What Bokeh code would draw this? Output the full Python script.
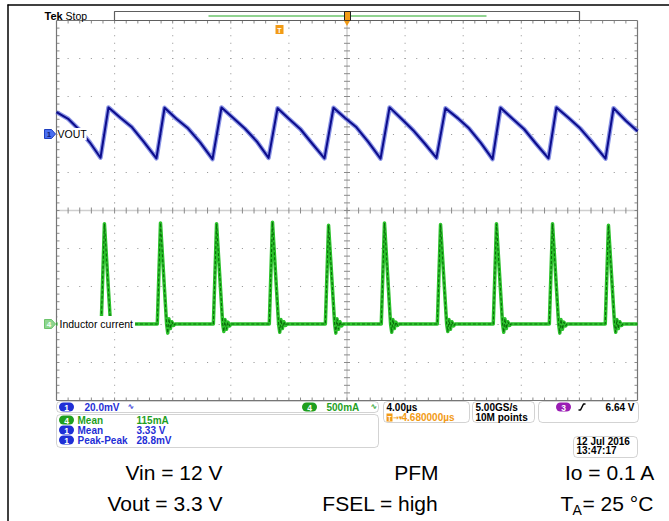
import numpy as np
from bokeh.plotting import figure
from bokeh.models import Range1d, BoxAnnotation
from bokeh.core.properties import value
from bokeh.embed import file_html
from bokeh.resources import INLINE

# ---------------- data ----------------
# Channel 1 (VOUT, AC-coupled ripple): time in µs, ripple in mV
vout_t = [0.00, 0.80, 1.60, 2.30, 3.03,
          3.58, 4.40, 5.20, 6.00, 6.88,
          7.44, 8.25, 9.05, 9.90, 10.74,
          11.36, 12.15, 12.95, 13.80, 14.60,
          15.22, 16.00, 16.80, 17.60, 18.45,
          19.07, 19.85, 20.65, 21.45, 22.31,
          22.93, 23.75, 24.55, 25.35, 26.16,
          26.78, 27.60, 28.40, 29.20, 30.02,
          30.57, 31.40, 32.20, 33.00, 33.87,
          34.42, 35.25, 36.05, 36.90, 37.80,
          38.35, 39.20, 40.00]
vout_mv = [11.5, 8.0, 2.0, -4.5, -12.5,
           14.0, 8.5, 3.5, -4.0, -12.8,
           13.8, 8.0, 3.0, -4.5, -13.2,
           14.0, 8.5, 3.0, -4.0, -12.6,
           13.6, 8.0, 2.5, -5.0, -12.8,
           13.8, 8.5, 3.5, -4.0, -13.0,
           14.0, 8.0, 2.0, -5.0, -12.6,
           13.6, 8.5, 3.0, -4.5, -13.2,
           13.8, 8.0, 2.5, -5.0, -12.8,
           14.0, 8.5, 3.0, -4.5, -13.0,
           13.6, 7.0, 1.5]

# Channel 4 (inductor current): time in µs, current in mA
il_t = [0.00,
        3.08, 3.30, 3.72, 3.80, 3.88, 3.98, 4.08, 4.20, 4.30,
        6.94, 7.16, 7.58, 7.66, 7.74, 7.84, 7.94, 8.06, 8.16,
        10.80, 11.02, 11.44, 11.52, 11.60, 11.70, 11.80, 11.92, 12.02,
        14.65, 14.87, 15.29, 15.37, 15.45, 15.55, 15.65, 15.77, 15.87,
        18.51, 18.73, 19.15, 19.23, 19.31, 19.41, 19.51, 19.63, 19.73,
        22.36, 22.58, 23.00, 23.08, 23.16, 23.26, 23.36, 23.48, 23.58,
        26.22, 26.44, 26.86, 26.94, 27.02, 27.12, 27.22, 27.34, 27.44,
        30.07, 30.29, 30.71, 30.79, 30.87, 30.97, 31.07, 31.19, 31.29,
        33.93, 34.15, 34.57, 34.65, 34.73, 34.83, 34.93, 35.05, 35.15,
        37.78, 38.00, 38.42, 38.50, 38.58, 38.68, 38.78, 38.90, 39.00,
        40.00]
il_ma = [0,
         0, 1320, 0, -60, 40, -40, 20, -15, 0,
         0, 1330, 0, -120, 70, -60, 30, -20, 0,
         0, 1320, 0, -100, 60, -70, 25, -25, 0,
         0, 1340, 0, -110, 60, -60, 30, -20, 0,
         0, 1300, 0, -120, 70, -70, 30, -25, 0,
         0, 1330, 0, -110, 60, -60, 25, -20, 0,
         0, 1310, 0, -100, 60, -70, 30, -25, 0,
         0, 1320, 0, -110, 70, -60, 30, -20, 0,
         0, 1320, 0, -120, 60, -70, 25, -25, 0,
         0, 1300, 0, -110, 60, -60, 30, -20, 0,
         0]

ch1_scale = "20.0mV"
ch4_scale = "500mA"
meas_ch = ["4", "1", "1"]
meas_name = ["Mean", "Mean", "Peak-Peak"]
meas_val = ["115mA", "3.33 V", "28.8mV"]
horiz_scale = "4.00µs"
trig_delay = "4.680000µs"
sample_rate = "5.00GS/s"
record_len = "10M points"
trig_src = "3"
trig_level = "6.64 V"
date_str = "12 Jul  2016"
time_str = "13:47:17"
cond_col1 = ["Vin = 12 V", "Vout = 3.3 V"]
cond_col2 = ["PFM", "FSEL = high"]
cond_io = "Io = 0.1 A"
cond_ta = "= 25 °C"

# ---------------- layout (page pixel coordinates) ----------------
W, H = 669, 521
X0, Y0 = 0, 0
X1, Y1 = X0 + W, Y0 + H
GL, GR, GT, GB = 56, 637, 20, 400
NXD, NYD = 10, 10
TDIV, V1DIV, V4DIV = 4.0, 20.0, 500.0
dx = (GR - GL) / NXD
dy = (GB - GT) / NYD
ch1_zero = GT + 3 * dy - 0.5
ch4_zero = GT + 8 * dy - 0.5

BLUE = "#1f2fd6"
GREEN = "#1f9f1f"
ORANGE = "#f29b16"
PURPLE = "#9a1db4"
FONT = "Liberation Sans"

p = figure(width=W, height=H, x_range=Range1d(X0, X1), y_range=Range1d(Y1, Y0),
           x_axis_type=None, y_axis_type=None, toolbar_location=None,
           output_backend="svg", min_border=0, outline_line_color=None)
p.background_fill_color = "white"
p.border_fill_color = "white"
p.extra_x_ranges = {"t": Range1d((X0 - GL) / dx * TDIV, (X1 - GL) / dx * TDIV)}
p.extra_y_ranges = {
    "ch1": Range1d((ch1_zero - Y1) / dy * V1DIV, (ch1_zero - Y0) / dy * V1DIV),
    "ch4": Range1d((ch4_zero - Y1) / dy * V4DIV, (ch4_zero - Y0) / dy * V4DIV),
}


def txt(x, y, s, color="black", size="10px", font=FONT, align="left",
        baseline="middle", style="bold", **kw):
    p.text(x=[x], y=[y], text=[s], text_color=color, text_font=value(font),
           text_font_size=size, text_align=align, text_baseline=baseline,
           text_font_style=style, **kw)


def pill(x, y, s, fill):
    p.segment(x0=[x - 3], y0=[y], x1=[x + 3], y1=[y], line_color=fill,
              line_width=9, line_cap="round")
    txt(x, y + 0.5, s, color="white", size="8.5px", align="center", style="bold")


def box(l, r, t, b, radius=4):
    p.add_layout(BoxAnnotation(left=l, right=r, top=t, bottom=b, fill_color="white",
                               fill_alpha=1, line_color="#6e6e6e", line_width=1,
                               border_radius=radius, level="underlay"))


# ---------------- outer frame ----------------
p.segment(x0=[7], y0=[4.5], x1=[X1], y1=[4.5], line_color="black", line_width=1.5)
p.segment(x0=[7.5], y0=[4], x1=[7.5], y1=[Y1], line_color="black", line_width=1.5)

# ---------------- graticule ----------------
DOT = "#9a9a9a"
cx = GL + dx * NXD / 2
cy = GT + dy * NYD / 2
sub_x = [GL + k * dx / 5 for k in range(1, NXD * 5)]
sub_y = [GT + k * dy / 5 for k in range(1, NYD * 5)]
vlines = [GL + i * dx for i in range(1, NXD) if i != NXD // 2]
hlines = [GT + j * dy for j in range(1, NYD) if j != NYD // 2]
ax, ay = np.meshgrid(vlines, sub_y)
bx, by = np.meshgrid(sub_x, hlines)
p.rect(x=np.concatenate([ax.ravel(), bx.ravel()]), y=np.concatenate([ay.ravel(), by.ravel()]),
       width=1.1, height=1.1, fill_color=DOT, line_color=None)
# centre cross
p.segment(x0=[cx, GL], y0=[GT, cy], x1=[cx, GR], y1=[GB, cy], line_color="#cfcfcf", line_width=1.5)
p.segment(x0=[cx - 3] * len(sub_y), y0=sub_y, x1=[cx + 3] * len(sub_y), y1=sub_y,
          line_color="#8a8a8a", line_width=1)
p.segment(x0=sub_x, y0=[cy - 3] * len(sub_x), x1=sub_x, y1=[cy + 3] * len(sub_x),
          line_color="#8a8a8a", line_width=1)
# border ticks
p.segment(x0=sub_x, y0=[GT] * len(sub_x), x1=sub_x, y1=[GT + 3] * len(sub_x), line_color="#8a8a8a")
p.segment(x0=sub_x, y0=[GB] * len(sub_x), x1=sub_x, y1=[GB - 3] * len(sub_x), line_color="#8a8a8a")
p.segment(x0=[GL] * len(sub_y), y0=sub_y, x1=[GL + 3] * len(sub_y), y1=sub_y, line_color="#8a8a8a")
p.segment(x0=[GR] * len(sub_y), y0=sub_y, x1=[GR - 3] * len(sub_y), y1=sub_y, line_color="#8a8a8a")
# border
p.segment(x0=[GL, GL, GL, GR], y0=[GT, GB, GT, GT], x1=[GR, GR, GL, GR], y1=[GT, GB, GB, GB],
          line_color="#767676", line_width=1.2)

# ---------------- traces ----------------
p.line(vout_t, vout_mv, x_range_name="t", y_range_name="ch1",
       line_color="#5a68dc", line_width=4.5, line_alpha=0.7, line_join="round")
p.line(vout_t, vout_mv, x_range_name="t", y_range_name="ch1",
       line_color="#0c0c8c", line_width=2, line_join="round")
p.line(il_t, il_ma, x_range_name="t", y_range_name="ch4",
       line_color="#2cc22c", line_width=3.5, line_join="round")
p.line(il_t, il_ma, x_range_name="t", y_range_name="ch4",
       line_color="#0a6e0a", line_width=1.1, line_dash="3 2")

# channel labels
txt(57, ch1_zero, "VOUT", style="normal", size="10.5px", background_fill_color="white")
txt(57, ch4_zero, "Inductor current", style="normal", size="10.5px",
    background_fill_color="white", padding=2)
# channel markers
p.patch(x=[44, 51, 55, 51, 44], y=[ch1_zero - 4.5, ch1_zero - 4.5, ch1_zero, ch1_zero + 4.5, ch1_zero + 4.5],
        fill_color="#4a6ff0", line_color="#1f3fbf", line_width=1)
txt(48.5, ch1_zero + 0.5, "1", color="#10207a", size="8px", align="center")
p.patch(x=[44, 51, 55, 51, 44], y=[ch4_zero - 4.5, ch4_zero - 4.5, ch4_zero, ch4_zero + 4.5, ch4_zero + 4.5],
        fill_color="#8fd68f", line_color="#6cc46c", line_width=1)
txt(48.5, ch4_zero + 0.5, "4", color="#f4fff4", size="8px", align="center")

# ---------------- top status bar ----------------
txt(44, 15, "Tek", size="11px", style="bold")
txt(65, 15, "Stop", size="10.5px", style="normal")
p.quad(left=[114], right=[579], top=[11], bottom=[20], fill_color="white", line_color="#5e5e5e", line_width=1.2)
p.segment(x0=[208], y0=[15.5], x1=[486], y1=[15.5], line_color="#6cc46c", line_width=1.5)
p.quad(left=[344], right=[350], top=[11], bottom=[20], fill_color=ORANGE, line_color="#222222", line_width=1)
p.scatter(x=[cx], y=[22], marker="inverted_triangle", size=6, fill_color=ORANGE, line_color=None)
p.rect(x=[279], y=[29], width=8, height=9, fill_color=ORANGE, line_color=None)
txt(279, 29.5, "T", color="white", size="7px", align="center", style="bold")

# ---------------- readout boxes ----------------
box(56, 378, 401, 412)
pill(66, 406.5, "1", BLUE)
txt(84, 407, ch1_scale, color=BLUE)
txt(127, 406, "∿", color=BLUE, size="8px", font="DejaVu Sans")
pill(309, 406.5, "4", GREEN)
txt(326, 407, ch4_scale, color=GREEN)
txt(370, 406, "∿", color=GREEN, size="8px", font="DejaVu Sans")

box(56, 378, 414, 447)
row_y = [420, 430, 440]
for c, n, v, yy in zip(meas_ch, meas_name, meas_val, row_y):
    col = GREEN if c == "4" else BLUE
    pill(66, yy - 0.5, c, col)
    txt(77, yy, n, color=col)
    txt(136, yy, v, color=col)

box(383, 469, 401, 422)
txt(386, 407, horiz_scale)
p.rect(x=[389], y=[417], width=6, height=8, fill_color=ORANGE, line_color=None)
txt(389, 417.5, "T", color="white", size="6.5px", align="center", style="bold")
txt(392.5, 417, "→▾", color=ORANGE, size="7px", font="DejaVu Sans")
txt(401, 417, trig_delay, color=ORANGE)

box(472, 534, 401, 422)
txt(475, 407, sample_rate)
txt(475, 417, record_len)

box(538, 638, 401, 422)
pill(563, 406.5, trig_src, PURPLE)
p.line(x=[578, 580, 583, 585], y=[409.5, 409.5, 403.5, 403.5], line_color="black", line_width=1.5)
txt(634, 407, trig_level, align="right")

box(573, 637, 436, 457)
txt(576, 441, date_str)
txt(576, 450, time_str)

# ---------------- test conditions ----------------
CF = "Liberation Sans"
txt(222, 472, cond_col1[0], size="21px", font=CF, align="right", style="normal")
txt(222, 503, cond_col1[1], size="21px", font=CF, align="right", style="normal")
txt(438, 472, cond_col2[0], size="21px", font=CF, align="right", style="normal")
txt(438, 503, cond_col2[1], size="21px", font=CF, align="right", style="normal")
txt(655, 472, cond_io, size="21px", font=CF, align="right", style="normal")
txt(560, 503, "T", size="21px", font=CF, style="normal")
txt(572, 509, "A", size="14px", font=CF, style="normal")
txt(582, 503, cond_ta, size="21px", font=CF, style="normal")

open("out.html", "w").write(file_html(p, INLINE))
